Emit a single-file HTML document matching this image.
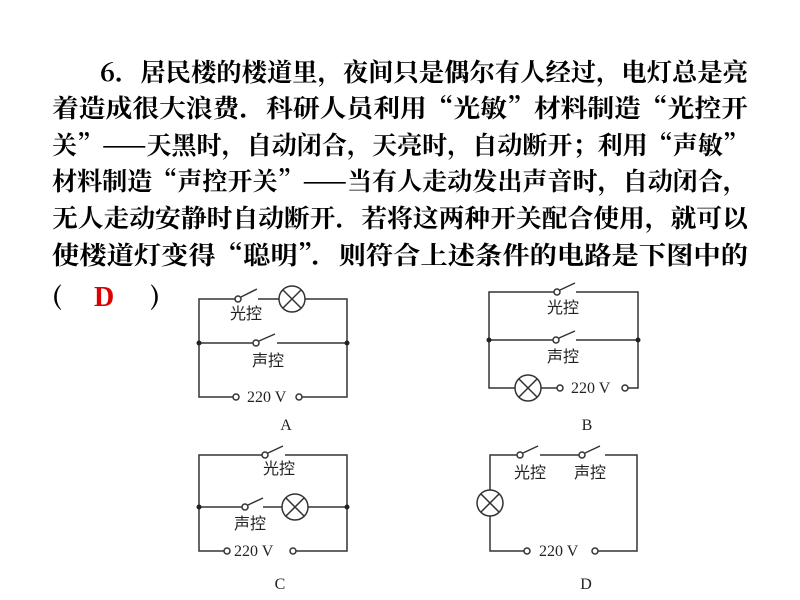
<!DOCTYPE html>
<html><head><meta charset="utf-8"><style>
html,body{margin:0;padding:0;background:#fff;width:800px;height:600px;overflow:hidden}
svg{display:block}
.t{font-family:"Noto Serif CJK SC","Liberation Serif",serif;font-weight:bold;font-size:25px;fill:#000}
.l{font-family:"Liberation Serif","Noto Sans CJK SC",serif;font-size:16px;fill:#222}
.v{font-family:"Liberation Serif",serif;font-size:16px;fill:#222}
</style></head><body>
<svg width="800" height="600" viewBox="0 0 800 600">
<g class="t">
<text x="100" y="81" textLength="648" lengthAdjust="spacingAndGlyphs">6．居民楼的楼道里，夜间只是偶尔有人经过，电灯总是亮</text>
<text x="52" y="117" textLength="696" lengthAdjust="spacingAndGlyphs">着造成很大浪费．科研人员利用“光敏”材料制造“光控开</text>
<text x="52" y="154" textLength="696" lengthAdjust="spacingAndGlyphs">关”——天黑时，自动闭合，天亮时，自动断开；利用“声敏”</text>
<text x="52" y="190" textLength="696" lengthAdjust="spacingAndGlyphs">材料制造“声控开关”——当有人走动发出声音时，自动闭合，</text>
<text x="52" y="227" textLength="696" lengthAdjust="spacingAndGlyphs">无人走动安静时自动断开．若将这两种开关配合使用，就可以</text>
<text x="52" y="264" textLength="696" lengthAdjust="spacingAndGlyphs">使楼道灯变得“聪明”．则符合上述条件的电路是下图中的</text>
<text x="52" y="305">(</text><text x="150" y="305">)</text>
</g>
<text x="94" y="306" font-family="Liberation Serif,serif" font-weight="bold" font-size="28" fill="#d00">D</text>
<g stroke="#333" stroke-width="1.5" fill="none">
<path d="M235,299H199V397H233"/>
<path d="M199,343H253M277,343H347M258,299H279M305,299H347V397H302"/>
<circle cx="238" cy="299" r="3"/><path d="M241,297L257,289"/>
<circle cx="292" cy="299" r="13"/><path d="M283,290L301,308M301,290L283,308"/>
<circle cx="256" cy="343" r="3"/><path d="M259,341L275,334"/>
<circle cx="236" cy="397" r="3"/><circle cx="299" cy="397" r="3"/>
<path d="M554,292H489V388H515M541,388H557M576,292H638V388H628M553,340H489M576,340H638"/>
<circle cx="557" cy="292" r="3"/><path d="M560,290L575,283"/>
<circle cx="556" cy="340" r="3"/><path d="M559,338L575,331"/>
<circle cx="528" cy="388" r="13"/><path d="M519,379L537,397M537,379L519,397"/>
<circle cx="560" cy="388" r="3"/><circle cx="625" cy="388" r="3"/>
<path d="M262,455H199V551H224M285,455H347V551H296M242,507H199M263,507H282M308,507H347"/>
<circle cx="265" cy="455" r="3"/><path d="M268,453L283,446"/>
<circle cx="245" cy="507" r="3"/><path d="M248,505L263,498"/>
<circle cx="295" cy="507" r="13"/><path d="M286,498L304,516M304,498L286,516"/>
<circle cx="227" cy="551" r="3"/><circle cx="293" cy="551" r="3"/>
<path d="M517,455H490V490M490,516V551H524M540,455H579M605,455H637V551H598"/>
<circle cx="520" cy="455" r="3"/><path d="M523,453L538,446"/>
<circle cx="582" cy="455" r="3"/><path d="M585,453L600,446"/>
<circle cx="490" cy="503" r="13"/><path d="M481,494L499,512M499,494L481,512"/>
<circle cx="527" cy="551" r="3"/><circle cx="595" cy="551" r="3"/>
</g>
<g fill="#222"><circle cx="199" cy="343" r="2.5"/><circle cx="347" cy="343" r="2.5"/>
<circle cx="489" cy="340" r="2.5"/><circle cx="638" cy="340" r="2.5"/>
<circle cx="199" cy="507" r="2.5"/><circle cx="347" cy="507" r="2.5"/></g>
<g class="l" text-anchor="middle">
<text x="246" y="319">光控</text><text x="268" y="366">声控</text>
<text x="563" y="313">光控</text><text x="563" y="362">声控</text>
<text x="279" y="474">光控</text><text x="250" y="529">声控</text>
<text x="530" y="478">光控</text><text x="590" y="478">声控</text>
</g>
<g class="v">
<text x="247" y="402">220 V</text><text x="571" y="393">220 V</text>
<text x="234" y="556">220 V</text><text x="539" y="556">220 V</text>
</g>
<g class="v" text-anchor="middle" font-size="18">
<text x="286" y="430">A</text><text x="587" y="430">B</text>
<text x="280" y="589">C</text><text x="586" y="589">D</text>
</g>
</svg>
</body></html>
